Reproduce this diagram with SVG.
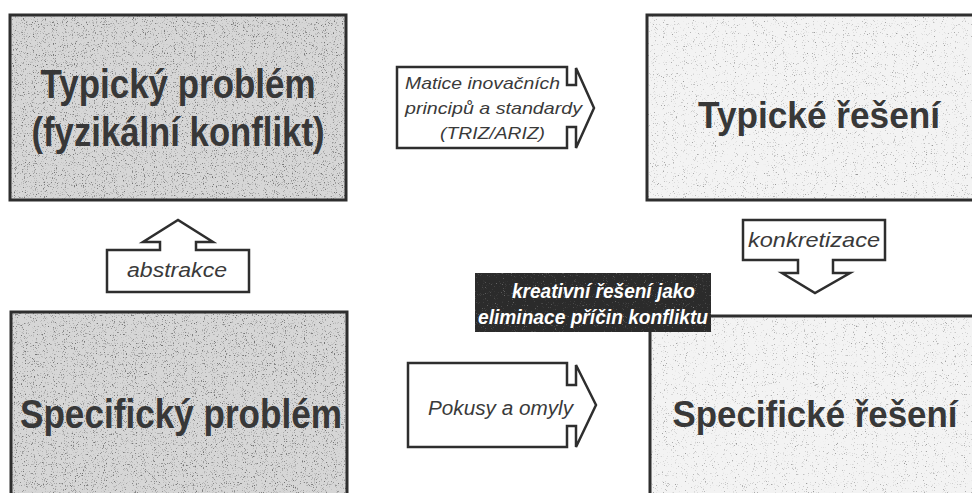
<svg xmlns="http://www.w3.org/2000/svg" width="972" height="493" viewBox="0 0 972 493">
<defs>
<filter id="grain" x="0" y="0" width="100%" height="100%" color-interpolation-filters="sRGB">
<feTurbulence type="fractalNoise" baseFrequency="0.9" numOctaves="2" seed="4" result="n"/>
<feColorMatrix in="n" type="matrix" values="0 0 0 0 0.45  0 0 0 0 0.45  0 0 0 0 0.45  5 0 0 0 -2.95" result="dots"/>
<feComposite in="dots" in2="SourceGraphic" operator="in"/>
</filter>
<filter id="grainLight" x="0" y="0" width="100%" height="100%" color-interpolation-filters="sRGB">
<feTurbulence type="fractalNoise" baseFrequency="0.9" numOctaves="2" seed="9" result="n"/>
<feColorMatrix in="n" type="matrix" values="0 0 0 0 0.6  0 0 0 0 0.6  0 0 0 0 0.6  5 0 0 0 -3.2" result="dots"/>
<feComposite in="dots" in2="SourceGraphic" operator="in"/>
</filter>
<filter id="grainWhite" x="0" y="0" width="100%" height="100%" color-interpolation-filters="sRGB">
<feTurbulence type="fractalNoise" baseFrequency="0.9" numOctaves="2" seed="2" result="n"/>
<feColorMatrix in="n" type="matrix" values="0 0 0 0 0.8  0 0 0 0 0.8  0 0 0 0 0.8  4 0 0 0 -2.6" result="dots"/>
<feComposite in="dots" in2="SourceGraphic" operator="in"/>
</filter>
</defs>
<style>
.frame{fill:none;stroke:#2e2e2e;stroke-width:3}
.dark{fill:#d6d6d6}
.light{fill:#f3f3f3}
.big{font-family:"Liberation Sans",Arial,sans-serif;font-weight:bold;font-size:40px;fill:#383838;text-anchor:middle}
.bigr{font-family:"Liberation Sans",Arial,sans-serif;font-weight:bold;font-size:37px;fill:#383838;text-anchor:middle}
.bigs{font-family:"Liberation Sans",Arial,sans-serif;font-weight:bold;font-size:34px;fill:#383838;text-anchor:middle}
.arrow{fill:#ffffff;stroke:#2e2e2e;stroke-width:2.5;stroke-linejoin:miter}
.lbl{font-family:"Liberation Sans",Arial,sans-serif;font-style:italic;fill:#3a3a3a}
.inv{font-family:"Liberation Sans",Arial,sans-serif;font-style:italic;font-weight:bold;font-size:20px;fill:#ffffff}
</style>
<rect x="0" y="0" width="972" height="493" fill="#ffffff"/>

<g id="node-typicky-problem">
<rect class="dark" x="10" y="15" width="336" height="185"/>
<rect x="10" y="15" width="336" height="185" filter="url(#grain)"/>
<rect class="frame" x="10" y="15" width="336" height="185"/>
<text class="big" x="178" y="98" textLength="275" lengthAdjust="spacingAndGlyphs">Typický problém</text>
<text class="big" x="178" y="146" textLength="293" lengthAdjust="spacingAndGlyphs">(fyzikální konflikt)</text>
</g>

<g id="node-typicke-reseni">
<rect class="light" x="647" y="15" width="325" height="185"/>
<rect x="647" y="15" width="325" height="185" filter="url(#grainLight)"/>
<path class="frame" d="M972,15 H647 V200 H972"/>
<text class="bigr" x="819" y="128" textLength="242" lengthAdjust="spacingAndGlyphs">Typické řešení</text>
</g>

<g id="node-specificky-problem">
<rect class="dark" x="11" y="312" width="336" height="181"/>
<rect x="11" y="312" width="336" height="181" filter="url(#grain)"/>
<path class="frame" d="M11,493 V312 H347 V493"/>
<text class="big" x="181" y="428" textLength="322" lengthAdjust="spacingAndGlyphs">Specifický problém</text>
</g>

<g id="node-specificke-reseni">
<rect class="light" x="650" y="316" width="322" height="177"/>
<rect x="650" y="316" width="322" height="177" filter="url(#grainLight)"/>
<path class="frame" d="M972,316 H650 V493"/>
<text class="bigs" x="815" y="427" textLength="285" lengthAdjust="spacingAndGlyphs" transform="translate(815 427) scale(1 1.1) translate(-815 -427)">Specifické řešení</text>
</g>

<g id="connectors">
<g id="arrow-matice">
<path class="arrow" d="M397,67 H567 V85 H576 V68 L594,108 L576,148 V127 H567 V148 H397 Z"/>
<text class="lbl" font-size="17" x="405" y="89" textLength="155" lengthAdjust="spacingAndGlyphs">Matice inovačních</text>
<text class="lbl" font-size="17" x="405" y="114" textLength="177" lengthAdjust="spacingAndGlyphs">principů a standardy</text>
<text class="lbl" font-size="17" x="440" y="139" textLength="105" lengthAdjust="spacingAndGlyphs">(TRIZ/ARIZ)</text>
</g>
<g id="arrow-abstrakce">
<path class="arrow" d="M107,250 H160 V242 H143 L178,220 L213,242 H196 V250 H249 V292 H107 Z"/>
<text class="lbl" font-size="20" x="177" y="277" text-anchor="middle" textLength="100" lengthAdjust="spacingAndGlyphs">abstrakce</text>
</g>
<g id="arrow-konkretizace">
<path class="arrow" d="M743,220 H885 V260 H833 V273 H850 L815,293 L782,273 H798 V260 H743 Z"/>
<text class="lbl" font-size="21" x="814" y="247" text-anchor="middle" textLength="132" lengthAdjust="spacingAndGlyphs">konkretizace</text>
</g>
<g id="arrow-pokusy">
<path class="arrow" d="M408,363 H567 V385 H576 V365 L596,405 L576,447 V426 H567 V447 H408 Z"/>
<text class="lbl" font-size="20" x="428" y="415" textLength="145" lengthAdjust="spacingAndGlyphs">Pokusy a omyly</text>
</g>
</g>

<g id="label-kreativni">
<rect x="475" y="273" width="236" height="59" fill="#2b2b2b"/>
<rect x="475" y="273" width="236" height="59" filter="url(#grainWhite)" opacity="0.5"/>
<text class="inv" x="512" y="298" textLength="183" lengthAdjust="spacingAndGlyphs">kreativní řešení jako</text>
<text class="inv" x="478" y="324" textLength="230" lengthAdjust="spacingAndGlyphs">eliminace příčin konfliktu</text>
</g>
</svg>
